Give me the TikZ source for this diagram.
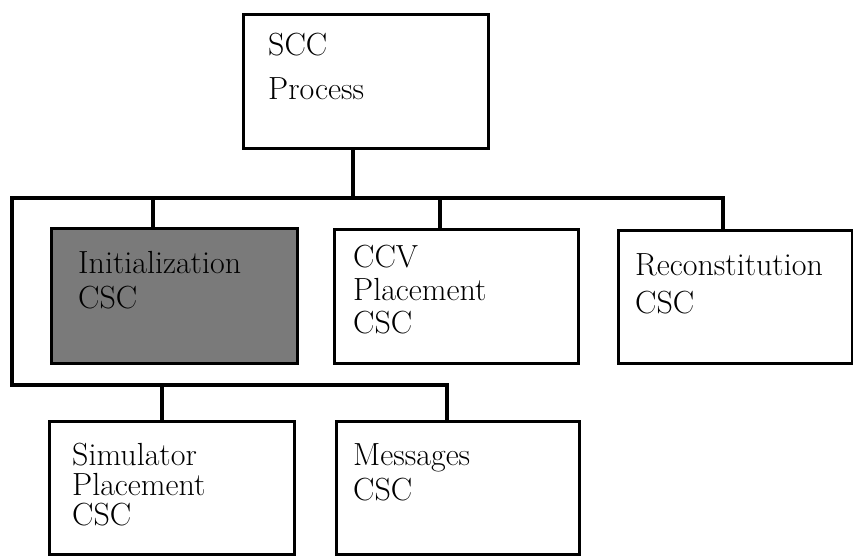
\documentclass[tikz,border=0pt]{standalone}
\begin{document}
\begin{tikzpicture}[x=1pt,y=-1pt,
  ln/.style={line width=3.2pt, line cap=rect},
  box/.style={draw, line width=3.2pt, rectangle, inner sep=0pt, anchor=north west},
  lbl/.style={anchor=north west, align=left, inner sep=0pt},
  fs/.style={font=\fontsize{32}{#1}\selectfont}]
\useasboundingbox (0,0) rectangle (853,555);
% boxes
\node[box, minimum width=245pt, minimum height=134pt] (scc) at (242,13) {};
\node[box, minimum width=246pt, minimum height=135pt, fill=black!52] (init) at (50,227) {};
\node[box, minimum width=244pt, minimum height=134pt] (ccv) at (333,228) {};
\node[box, minimum width=234pt, minimum height=133pt] (rec) at (617,229) {};
\node[box, minimum width=245pt, minimum height=133pt] (sim) at (48,420) {};
\node[box, minimum width=243pt, minimum height=133pt] (msg) at (335,420) {};
% labels
\node[lbl, fs=44] (tscc) at (268,33) {SCC\\Process};
\node[lbl, fs=35] (tinit) at (78,251) {Initialization\\CSC};
\node[lbl, fs=33] (tccv) at (353,245) {CCV\\Placement\\CSC};
\node[lbl, fs=38] (trec) at (635,253) {Reconstitution\\CSC};
\node[lbl, fs=30] (tsim) at (72,443) {Simulator\\Placement\\CSC};
\node[lbl, fs=35] (tmsg) at (353,443) {Messages\\CSC};
% bus coordinates
\coordinate (tl) at (12,198);
\coordinate (tr) at (723,198);
\coordinate (bl) at (12,385);
\coordinate (br) at (447,385);
\coordinate (js) at (353,198);
\coordinate (j1) at (153,198);
\coordinate (j2) at (440,198);
\coordinate (j3) at (162,385);
% connectors
\draw[ln] (js |- scc.south) -- (js);
\draw[ln] (bl) -- (tl) -- (tr) -- (tr |- rec.north);
\draw[ln] (j1) -- (j1 |- init.north);
\draw[ln] (j2) -- (j2 |- ccv.north);
\draw[ln] (bl) -- (br) -- (br |- msg.north);
\draw[ln] (j3) -- (j3 |- sim.north);
\end{tikzpicture}
\end{document}
